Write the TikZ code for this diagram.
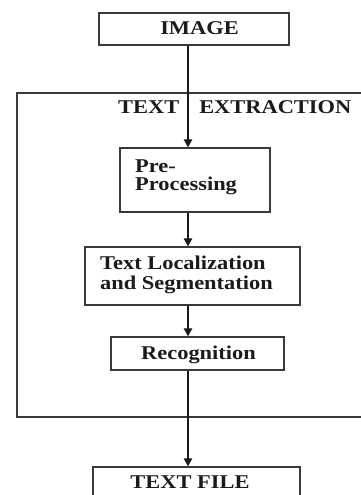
\documentclass[tikz,border=0pt]{standalone}
\usepackage{fontspec}
\usepackage{graphicx}
\setmainfont{Liberation Serif}
\usetikzlibrary{arrows.meta}
\definecolor{ink}{HTML}{1C1A1A}
\definecolor{edge}{HTML}{3A3A3A}
\newcommand\wide[1]{\scalebox{1.15}[1]{#1}}
\tikzset{
  boxnode/.style={draw=edge, line width=1.4pt, minimum width=#1, inner sep=0pt},
  lbl/.style={inner sep=0pt, text=ink, font=\fontsize{19.5}{20}\selectfont\bfseries},
  arr/.style={draw=ink, line width=1.2pt, -{Triangle[length=8pt,width=8.5pt]}},
  framepath/.style={draw=edge, line width=1.4pt},
}
\begin{document}
\begin{tikzpicture}[x=1pt,y=-1pt]
\useasboundingbox (0,0) rectangle (360,495);
\fill[white] (0,0) rectangle (360,495);
\coordinate (spine) at (188,0);
% outer frame (its right side runs off the picture)
\coordinate (ftl) at (17,93);
\coordinate (fbl) at (17,417);
\coordinate (fright) at (370,0);
\draw[framepath] (ftl -| fright) -- (ftl) -- (fbl) -- (fbl -| fright);
\node[lbl, anchor=base west] (title) at (118,113) {\wide{TEXT}\hspace{20pt}\wide{EXTRACTION}};
% boxes
\node[boxnode=190pt, minimum height=32pt] (img) at (194,29) {};
\node[lbl, anchor=base] (imgt) at (199.5,35) {\wide{IMAGE}};
\node[boxnode=150pt, minimum height=64pt] (pre) at (195,180) {};
\node[lbl, anchor=base west] (pret1) at (135,172) {\wide{Pre-}};
\node[lbl, anchor=base west] (pret2) at (135,190) {\wide{Processing}};
\node[boxnode=215pt, minimum height=58pt] (loc) at (192.5,276) {};
\node[lbl, anchor=base west] (loct1) at (100,269) {\wide{Text Localization}};
\node[lbl, anchor=base west] (loct2) at (100,289) {\wide{and Segmentation}};
\node[boxnode=173pt, minimum height=33pt] (rec) at (197.5,353.5) {};
\node[lbl, anchor=base] (rect) at (198.5,359) {\wide{Recognition}};
\node[boxnode=207pt, minimum height=50pt] (tf) at (196.5,492) {};
\node[lbl, anchor=base] (tft) at (190,488) {\wide{TEXT FILE}};
% arrows
\draw[arr] (img.south -| spine) -- (pre.north -| spine);
\draw[arr] (pre.south -| spine) -- (loc.north -| spine);
\draw[arr] (loc.south -| spine) -- (rec.north -| spine);
\draw[arr] (rec.south -| spine) -- (tf.north -| spine);
\end{tikzpicture}
\end{document}
